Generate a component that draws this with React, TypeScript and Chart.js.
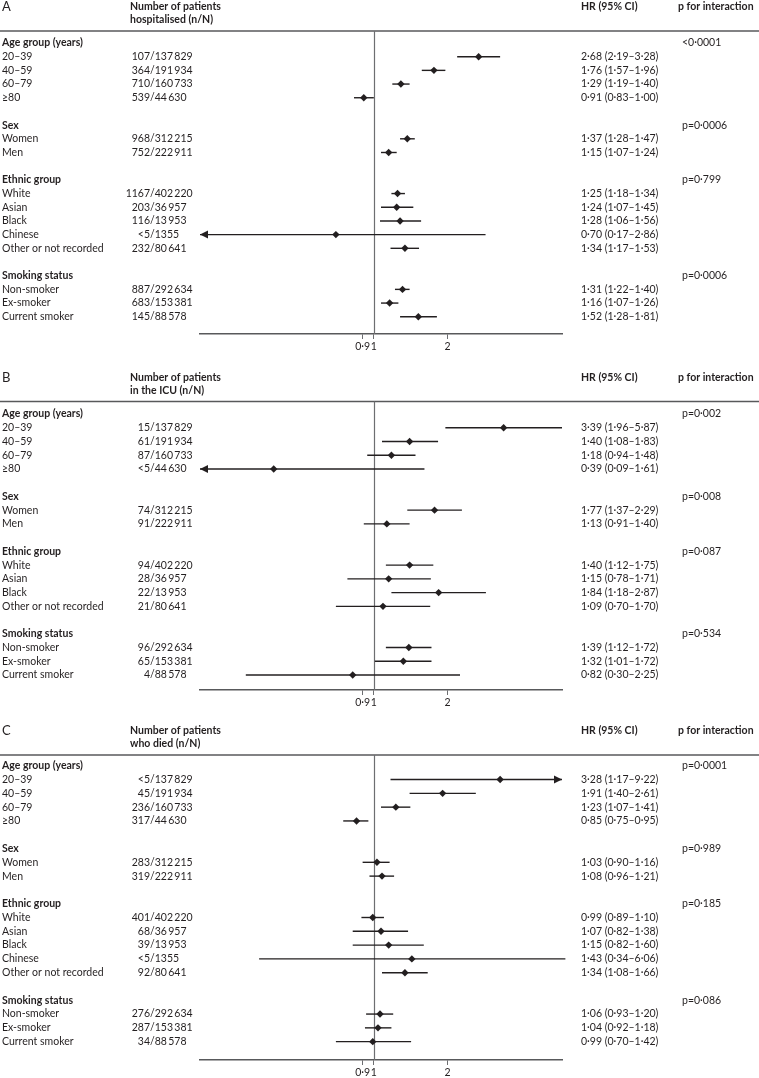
import React, { useEffect, useRef } from "react";
import { Chart, registerables } from "chart.js";

Chart.register(...registerables);

// ---------- data ----------
const groupTitles = ["Age group (years)", "Sex", "Ethnic group", "Smoking status"];
const ageGroups = ["20–39", "40–59", "60–79", "≥80"];
const sexGroups = ["Women", "Men"];
const ethnicGroupsFull = ["White", "Asian", "Black", "Chinese", "Other or not recorded"];
const ethnicGroupsIcu = ["White", "Asian", "Black", "Other or not recorded"];
const smokingGroups = ["Non-smoker", "Ex-smoker", "Current smoker"];

const cohortSizesFull = [137829, 191934, 160733, 44630, 312215, 222911, 402220, 36957, 13953, 1355, 80641, 292634, 153381, 88578];
const cohortSizesIcu = [137829, 191934, 160733, 44630, 312215, 222911, 402220, 36957, 13953, 80641, 292634, 153381, 88578];

const hospEvents = ["107", "364", "710", "539", "968", "752", "1167", "203", "116", "<5", "232", "887", "683", "145"];
const hospHR = [2.68, 1.76, 1.29, 0.91, 1.37, 1.15, 1.25, 1.24, 1.28, 0.7, 1.34, 1.31, 1.16, 1.52];
const hospLow = [2.19, 1.57, 1.19, 0.83, 1.28, 1.07, 1.18, 1.07, 1.06, 0.17, 1.17, 1.22, 1.07, 1.28];
const hospHigh = [3.28, 1.96, 1.4, 1.0, 1.47, 1.24, 1.34, 1.45, 1.56, 2.86, 1.53, 1.4, 1.26, 1.81];
const hospP = ["<0·0001", "p=0·0006", "p=0·799", "p=0·0006"];

const icuEvents = ["15", "61", "87", "<5", "74", "91", "94", "28", "22", "21", "96", "65", "4"];
const icuHR = [3.39, 1.4, 1.18, 0.39, 1.77, 1.13, 1.4, 1.15, 1.84, 1.09, 1.39, 1.32, 0.82];
const icuLow = [1.96, 1.08, 0.94, 0.09, 1.37, 0.91, 1.12, 0.78, 1.18, 0.7, 1.12, 1.01, 0.3];
const icuHigh = [5.87, 1.83, 1.48, 1.61, 2.29, 1.4, 1.75, 1.71, 2.87, 1.7, 1.72, 1.72, 2.25];
const icuP = ["p=0·002", "p=0·008", "p=0·087", "p=0·534"];

const deathEvents = ["<5", "45", "236", "317", "283", "319", "401", "68", "39", "<5", "92", "276", "287", "34"];
const deathHR = [3.28, 1.91, 1.23, 0.85, 1.03, 1.08, 0.99, 1.07, 1.15, 1.43, 1.34, 1.06, 1.04, 0.99];
const deathLow = [1.17, 1.4, 1.07, 0.75, 0.9, 0.96, 0.89, 0.82, 0.82, 0.34, 1.08, 0.93, 0.92, 0.7];
const deathHigh = [9.22, 2.61, 1.41, 0.95, 1.16, 1.21, 1.1, 1.38, 1.6, 6.06, 1.66, 1.2, 1.18, 1.42];
const deathP = ["p=0·0001", "p=0·989", "p=0·185", "p=0·086"];

const xTickValues = [0.9, 1, 2];
const X_MIN = 0.195;
const X_MAX = 5.87;

// ---------- styling / layout ----------
const INK = "#231f20";
const GREY = "#6d6e71";
const FONT = "Lato, 'Open Sans', sans-serif";
const FS = 10.5;

const panels = [
  {
    letter: "A",
    header: ["Number of patients", "hospitalised (n/N)"],
    groups: [ageGroups, sexGroups, ethnicGroupsFull, smokingGroups],
    denoms: cohortSizesFull,
    events: hospEvents,
    hr: hospHR,
    low: hospLow,
    high: hospHigh,
    p: hospP,
    top: 0,
    height: 360,
    padTop: 31,
    padBottom: 8,
    yMin: -0.876,
    yMax: 21.26,
  },
  {
    letter: "B",
    header: ["Number of patients", "in the ICU (n/N)"],
    groups: [ageGroups, sexGroups, ethnicGroupsIcu, smokingGroups],
    denoms: cohortSizesIcu,
    events: icuEvents,
    hr: icuHR,
    low: icuLow,
    high: icuHigh,
    p: icuP,
    top: 360,
    height: 355,
    padTop: 41.5,
    padBottom: 7,
    yMin: -0.91,
    yMax: 20.09,
  },
  {
    letter: "C",
    header: ["Number of patients", "who died (n/N)"],
    groups: [ageGroups, sexGroups, ethnicGroupsFull, smokingGroups],
    denoms: cohortSizesFull,
    events: deathEvents,
    hr: deathHR,
    low: deathLow,
    high: deathHigh,
    p: deathP,
    top: 715,
    height: 363,
    padTop: 40,
    padBottom: 0,
    yMin: -0.78,
    yMax: 21.33,
  },
];

const fmt2 = (n: number) => n.toFixed(2).replace(".", "·");
const fmtN = (n: number) => {
  const s = String(n);
  return n >= 10000 ? s.slice(0, -3) + "\u2009" + s.slice(-3) : s;
};

type Row = { kind: "header" | "item"; r: number; label: string; g: number; i: number };

function buildRows(groups: string[][]): Row[] {
  const rows: Row[] = [];
  let r = 0;
  let i = 0;
  groups.forEach((items, g) => {
    rows.push({ kind: "header", r, label: groupTitles[g], g, i: -1 });
    r++;
    items.forEach((label) => {
      rows.push({ kind: "item", r, label, g, i });
      r++;
      i++;
    });
    r++; // blank spacer row
  });
  return rows;
}

function ForestPanel({ def }: { def: (typeof panels)[number] }) {
  const ref = useRef<HTMLCanvasElement>(null);

  useEffect(() => {
    const canvas = ref.current;
    if (!canvas) return;
    const rows = buildRows(def.groups);
    const items = rows.filter((row) => row.kind === "item");

    const datasets: any[] = items.map((row) => {
      const lo = def.low[row.i];
      const hi = def.high[row.i];
      return {
        type: "scatter",
        data: [
          { x: lo < X_MIN ? X_MIN : lo, y: row.r },
          { x: hi > X_MAX * 1.1 ? X_MAX : hi, y: row.r },
        ],
        showLine: true,
        borderColor: INK,
        borderWidth: 1.4,
        pointRadius: 0,
        clip: false,
      };
    });
    datasets.push({
      type: "scatter",
      data: items.map((row) => ({ x: def.hr[row.i], y: row.r })),
      pointStyle: "rectRot",
      pointRadius: 3.7,
      backgroundColor: INK,
      borderColor: INK,
      borderWidth: 0,
      clip: false,
    });

    const textPlugin = {
      id: "forestText",
      beforeDatasetsDraw(chart: any) {
        const { ctx, chartArea, scales } = chart;
        ctx.save();
        // top rule
        ctx.strokeStyle = "#58595b";
        ctx.lineWidth = 1.6;
        ctx.beginPath();
        ctx.moveTo(0, chartArea.top);
        ctx.lineTo(chart.width, chartArea.top);
        ctx.stroke();
        // reference line at HR = 1
        const x1 = Math.round(scales.x.getPixelForValue(1)) + 0.5;
        ctx.strokeStyle = GREY;
        ctx.lineWidth = 1.2;
        ctx.beginPath();
        ctx.moveTo(x1, chartArea.top);
        ctx.lineTo(x1, chartArea.bottom);
        ctx.stroke();
        ctx.restore();
      },
      afterDatasetsDraw(chart: any) {
        const { ctx, chartArea, scales } = chart;
        const xs = scales.x;
        const ys = scales.y;
        ctx.save();
        // arrowheads for truncated intervals
        ctx.fillStyle = INK;
        items.forEach((row) => {
          const y = ys.getPixelForValue(row.r);
          if (def.low[row.i] < X_MIN) {
            const tx = xs.getPixelForValue(X_MIN);
            ctx.beginPath();
            ctx.moveTo(tx, y);
            ctx.lineTo(tx + 8, y - 4);
            ctx.lineTo(tx + 8, y + 4);
            ctx.closePath();
            ctx.fill();
          }
          if (def.high[row.i] > X_MAX * 1.1) {
            const tx = xs.getPixelForValue(X_MAX);
            ctx.beginPath();
            ctx.moveTo(tx, y);
            ctx.lineTo(tx - 8, y - 4);
            ctx.lineTo(tx - 8, y + 4);
            ctx.closePath();
            ctx.fill();
          }
        });

        ctx.fillStyle = INK;
        ctx.textBaseline = "middle";
        const top = chartArea.top;
        // column headers
        ctx.textAlign = "left";
        ctx.font = `13px ${FONT}`;
        ctx.fillText(def.letter, 2, top - 24);
        ctx.font = `bold ${FS}px ${FONT}`;
        ctx.fillText(def.header[0], 130, top - 24);
        ctx.fillText(def.header[1], 130, top - 11);
        ctx.fillText("HR (95% CI)", 581, top - 24);
        ctx.fillText("p for interaction", 678, top - 24);

        rows.forEach((row) => {
          const y = ys.getPixelForValue(row.r);
          if (row.kind === "header") {
            ctx.font = `bold ${FS}px ${FONT}`;
            ctx.textAlign = "left";
            ctx.fillText(row.label, 2, y);
            ctx.font = `${FS}px ${FONT}`;
            ctx.fillText(def.p[row.g], 682, y);
          } else {
            ctx.font = `${FS}px ${FONT}`;
            ctx.textAlign = "left";
            ctx.fillText(row.label, 2, y);
            ctx.textAlign = "right";
            ctx.fillText(def.events[row.i], 150, y);
            ctx.textAlign = "left";
            ctx.fillText("/" + fmtN(def.denoms[row.i]), 150, y);
            ctx.fillText(
              `${fmt2(def.hr[row.i])} (${fmt2(def.low[row.i])}–${fmt2(def.high[row.i])})`,
              581,
              y
            );
          }
        });
        ctx.restore();
      },
    };

    const chart = new Chart(canvas, {
      type: "scatter",
      data: { datasets },
      options: {
        responsive: false,
        animation: false,
        events: [],
        devicePixelRatio: 1,
        layout: {
          padding: { left: 200, right: 197, top: def.padTop, bottom: def.padBottom },
        },
        plugins: {
          legend: { display: false },
          tooltip: { enabled: false },
        },
        scales: {
          x: {
            type: "logarithmic",
            min: X_MIN,
            max: X_MAX,
            bounds: "data",
            afterBuildTicks: (s: any) => {
              s.ticks = xTickValues.map((v) => ({ value: v }));
            },
            afterFit: (s: any) => {
              s.height = 18;
            },
            ticks: {
              autoSkip: false,
              maxRotation: 0,
              padding: 1,
              color: INK,
              font: { family: FONT, size: FS },
              callback: (v: any) => String(v).replace(".", "·"),
            },
            grid: {
              display: true,
              drawOnChartArea: false,
              drawTicks: true,
              tickLength: 5,
              color: GREY,
              lineWidth: 1,
            },
            border: { display: true, color: "#58595b", width: 1.4 },
          },
          y: {
            type: "linear",
            display: false,
            reverse: true,
            min: def.yMin,
            max: def.yMax,
          },
        },
      },
      plugins: [textPlugin],
    } as any);

    return () => chart.destroy();
  }, [def]);

  return (
    <canvas
      ref={ref}
      width={759}
      height={def.height}
      style={{ position: "absolute", left: 0, top: def.top, width: 759, height: def.height, display: "block" }}
    />
  );
}

export default function App() {
  return (
    <div style={{ position: "absolute", left: 0, top: 0, width: 759, height: 1078, background: "#fff", overflow: "hidden" }}>
      {panels.map((p) => (
        <ForestPanel key={p.letter} def={p} />
      ))}
    </div>
  );
}
